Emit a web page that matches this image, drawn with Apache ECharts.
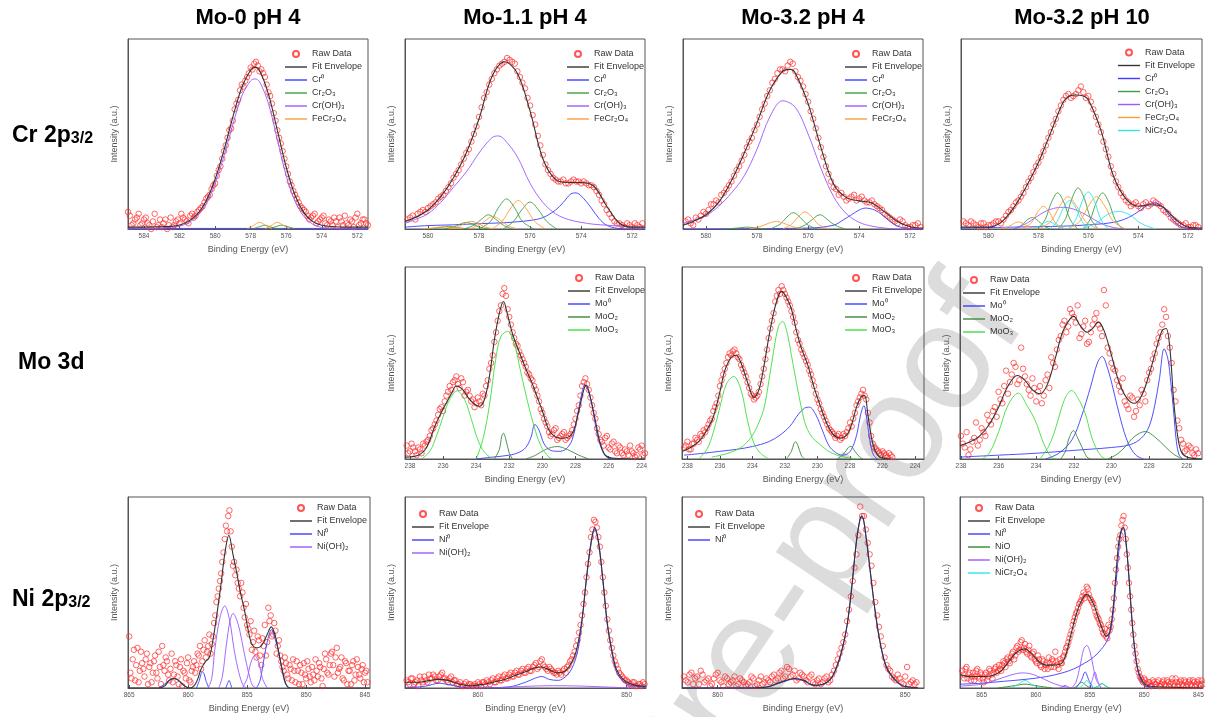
<!DOCTYPE html>
<html><head><meta charset="utf-8">
<script src="https://cdn.jsdelivr.net/npm/echarts@6/dist/echarts.min.js"></script>
<style>html,body{margin:0;padding:0;background:#fff}#c{width:1205px;height:717px}</style>
</head><body><div id="c"></div><script>
// ---------- titles ----------
const columnTitles = ['Mo-0 pH 4','Mo-1.1 pH 4','Mo-3.2 pH 4','Mo-3.2 pH 10'];
const rowLabels = [['Cr 2p','3/2'],['Mo 3d',''],['Ni 2p','3/2']];
const xAxisTitle = 'Binding Energy (eV)';
const yAxisTitle = 'Intensity (a.u.)';
const RAW_STEP = 0.2; // eV spacing of each raw data sweep

// ---------- Cr 2p3/2 ----------
const crTicks = [572,574,576,578,580,582,584];
const crTicks2 = [572,574,576,578,580];
const crMo0RawStart = 585.0;
const crMo0Raw = [0.04,0.07,0.03,0.06,0.02,0.05,0.03,0.00,0.08,0.02,0.01,0.05,0.02,0.01,0.04,0.03,0.06,0.04,0.07,0.06,0.09,0.11,0.14,0.17,0.21,0.24,0.31,0.37,0.44,0.52,0.57,0.66,0.73,0.75,0.80,0.85,0.87,0.86,0.84,0.80,0.72,0.66,0.57,0.48,0.41,0.33,0.25,0.20,0.16,0.12,0.10,0.07,0.06,0.08,0.04,0.06,0.03,0.05,0.02,0.04,0.06,0.02,0.03,0.05,0.01,0.08,0.03,0.05,0.02];
const crMo0RawBStart = 584.9;
const crMo0RawB = [0.09,0.02,0.05,0.08,0.03,0.06,0.02,0.04,0.01,0.05,0.03,0.00,0.06,0.02,0.05,0.08,0.05,0.03,0.08,0.07,0.10,0.12,0.16,0.18,0.23,0.28,0.33,0.41,0.48,0.53,0.63,0.68,0.76,0.78,0.82,0.84,0.88,0.83,0.82,0.76,0.70,0.61,0.52,0.45,0.37,0.29,0.23,0.18,0.14,0.11,0.09,0.05,0.07,0.03,0.05,0.07,0.02,0.04,0.06,0.01,0.04,0.07,0.02,0.04,0.06,0.02,0.05,0.03];
const crMo0Fit = [[584.9,0.01],[584,0.01],[583,0.012],[582.5,0.014],[582,0.021],[581.5,0.04],[581,0.078],[580.5,0.149],[580,0.262],[579.5,0.415],[579,0.59],[578.5,0.745],[578,0.837],[577.75,0.852],[577.5,0.834],[577,0.71],[576.5,0.52],[576,0.325],[575.5,0.176],[575,0.085],[574.5,0.039],[574,0.02],[573.5,0.013],[572.5,0.01],[571.4,0.01]];
const crMo0Cr0 = [[[584.9,0.003],[571.4,0.003]]];
const crMo0Cr2O3 = [[[577.9,0],[577.5,0.012],[577.2,0.02],[576.9,0.012],[576.6,0.003],[576.3,0]],[[577.0,0],[576.6,0.012],[576.25,0.02],[575.9,0.012],[575.5,0]]];
const crMo0CrOH = [[[584.9,0],[583,0.005],[582.5,0.01],[582,0.015],[581.5,0.033],[581,0.07],[580.5,0.135],[580,0.24],[579.5,0.385],[579,0.55],[578.5,0.70],[578,0.78],[577.75,0.79],[577.5,0.775],[577,0.66],[576.5,0.47],[576,0.28],[575.5,0.145],[575,0.065],[574.5,0.025],[574,0.008],[573.5,0.002],[571.4,0]]];
const crMo0Fe = [[[578.2,0],[577.85,0.018],[577.5,0.035],[577.15,0.018],[576.8,0]],[[577.2,0],[576.85,0.018],[576.5,0.035],[576.15,0.018],[575.8,0]]];

const crMo11RawStart = 580.8;
const crMo11Raw = [0.05,0.07,0.08,0.10,0.11,0.13,0.16,0.18,0.22,0.27,0.31,0.37,0.42,0.50,0.59,0.69,0.76,0.82,0.86,0.88,0.89,0.87,0.80,0.74,0.65,0.55,0.44,0.34,0.29,0.26,0.25,0.24,0.25,0.25,0.24,0.24,0.23,0.20,0.15,0.10,0.06,0.03,0.02,0.03,0.01,0.02,0.03];
const crMo11RawBStart = 580.7;
const crMo11RawB = [0.06,0.05,0.09,0.09,0.12,0.14,0.17,0.20,0.24,0.29,0.34,0.40,0.46,0.54,0.64,0.72,0.79,0.84,0.87,0.90,0.88,0.83,0.77,0.69,0.60,0.49,0.39,0.31,0.27,0.25,0.26,0.24,0.26,0.25,0.25,0.23,0.22,0.18,0.13,0.08,0.04,0.03,0.01,0.02,0.03,0.01];
const crMo11Fit = [[580.9,0.04],[580.5,0.06],[580,0.10],[579.5,0.17],[579,0.27],[578.5,0.40],[578,0.58],[577.5,0.80],[577,0.88],[576.5,0.82],[576,0.62],[575.5,0.37],[575,0.26],[574.5,0.245],[574,0.245],[573.5,0.225],[573,0.12],[572.5,0.03],[572,0.01],[571.5,0.01]];
const crMo11Cr0 = [[[580.9,0.01],[580,0.018],[579,0.022],[578,0.028],[577,0.033],[576.5,0.038],[576,0.045],[575.5,0.06],[575,0.1],[574.7,0.14],[574.4,0.185],[574.2,0.19],[573.9,0.16],[573.6,0.11],[573.3,0.055],[573,0.02],[572.6,0.004],[572,0],[571.5,0]]];
const crMo11Cr2O3 = [
 [[578,0],[577.55,0.04],[577.25,0.11],[576.92,0.158],[576.6,0.11],[576.3,0.04],[575.85,0]],
 [[577.05,0],[576.65,0.04],[576.33,0.1],[576.0,0.142],[575.67,0.1],[575.35,0.04],[574.95,0]],
 [[578.6,0],[578.2,0.02],[577.9,0.052],[577.64,0.075],[577.35,0.052],[577.05,0.02],[576.7,0]],
 [[579.4,0],[579.0,0.01],[578.75,0.025],[578.5,0.035],[578.25,0.025],[578.0,0.01],[577.6,0]],
 [[580,0],[579.5,0.008],[579.2,0.014],[578.9,0.008],[578.4,0]]];
const crMo11CrOH = [[[580.9,0.03],[580.5,0.05],[580,0.08],[579.5,0.14],[579,0.22],[578.5,0.30],[578,0.40],[577.5,0.48],[577.25,0.49],[577,0.47],[576.5,0.38],[576,0.24],[575.5,0.14],[575,0.08],[574.5,0.05],[574,0.035],[573.5,0.025],[573,0.02],[572.5,0.015],[572,0.01],[571.5,0.01]]];
const crMo11Fe = [
 [[577.5,0],[577.1,0.04],[576.78,0.105],[576.46,0.15],[576.14,0.105],[575.82,0.04],[575.4,0]],
 [[578.4,0],[578.0,0.02],[577.72,0.048],[577.45,0.067],[577.18,0.048],[576.9,0.02],[576.5,0]],
 [[579.2,0],[578.8,0.012],[578.55,0.03],[578.3,0.04],[578.05,0.03],[577.8,0.012],[577.4,0]],
 [[580.2,0],[579.7,0.007],[579.4,0.012],[579.1,0.007],[578.6,0]]];

const crMo32RawStart = 580.8;
const crMo32Raw = [0.04,0.03,0.06,0.07,0.08,0.13,0.15,0.18,0.21,0.25,0.31,0.36,0.43,0.48,0.55,0.63,0.70,0.77,0.82,0.84,0.86,0.87,0.80,0.75,0.67,0.58,0.48,0.38,0.29,0.22,0.18,0.17,0.16,0.18,0.16,0.15,0.14,0.13,0.11,0.08,0.06,0.04,0.05,0.02,0.01,0.02,0.01];
const crMo32RawBStart = 580.7;
const crMo32RawB = [0.05,0.02,0.05,0.09,0.10,0.13,0.14,0.19,0.23,0.28,0.33,0.39,0.46,0.52,0.59,0.66,0.73,0.79,0.84,0.83,0.88,0.83,0.78,0.71,0.62,0.53,0.43,0.33,0.25,0.21,0.19,0.15,0.17,0.15,0.17,0.14,0.15,0.12,0.10,0.07,0.05,0.03,0.04,0.01,0.02,0.03];
const crMo32Fit = [[580.9,0.02],[580.5,0.04],[580,0.075],[579.5,0.14],[579,0.255],[578.5,0.40],[578,0.56],[577.5,0.73],[577,0.83],[576.7,0.84],[576.5,0.82],[576,0.66],[575.5,0.43],[575,0.235],[574.5,0.165],[574,0.148],[573.5,0.137],[573,0.09],[572.5,0.04],[572,0.012],[571.5,0.005]];
const crMo32Cr0 = [[[580.9,0],[576,0.005],[575,0.02],[574.6,0.05],[574.3,0.075],[574,0.1],[573.75,0.11],[573.4,0.1],[573.1,0.075],[572.8,0.04],[572.5,0.015],[572.1,0.003],[571.5,0]]];
const crMo32Cr2O3 = [
 [[577.5,0],[577.1,0.025],[576.85,0.06],[576.58,0.086],[576.3,0.06],[576.05,0.025],[575.65,0]],
 [[576.5,0],[576.1,0.022],[575.82,0.052],[575.54,0.075],[575.26,0.052],[574.98,0.022],[574.55,0]],
 [[579.2,0],[578.7,0.006],[578.4,0.01],[578.1,0.006],[577.6,0]]];
const crMo32CrOH = [[[580.9,0.03],[580.5,0.045],[580,0.07],[579.5,0.12],[579,0.19],[578.5,0.28],[578,0.42],[577.5,0.59],[577,0.675],[576.5,0.64],[576,0.50],[575.5,0.32],[575,0.17],[574.5,0.08],[574,0.035],[573.5,0.015],[573,0.005],[572.5,0],[571.5,0]]];
const crMo32Fe = [
 [[577.0,0],[576.65,0.025],[576.38,0.065],[576.12,0.09],[575.86,0.065],[575.6,0.025],[575.2,0]],
 [[578.3,0],[577.9,0.012],[577.55,0.03],[577.25,0.04],[576.95,0.03],[576.6,0.012],[576.2,0]]];

const crMo32p10RawStart = 581.0;
const crMo32p10Raw = [0.04,0.02,0.03,0.01,0.03,0.02,0.03,0.04,0.05,0.09,0.12,0.15,0.19,0.25,0.30,0.35,0.41,0.48,0.55,0.62,0.68,0.71,0.70,0.73,0.72,0.70,0.63,0.55,0.46,0.38,0.29,0.22,0.17,0.14,0.13,0.12,0.13,0.12,0.15,0.13,0.10,0.08,0.05,0.03,0.02,0.01,0.02,0.01];
const crMo32p10RawBStart = 580.9;
const crMo32p10RawB = [0.03,0.04,0.02,0.03,0.01,0.02,0.04,0.03,0.07,0.10,0.14,0.17,0.22,0.27,0.33,0.38,0.44,0.51,0.58,0.65,0.70,0.69,0.71,0.75,0.69,0.67,0.59,0.51,0.42,0.33,0.25,0.19,0.15,0.12,0.14,0.11,0.14,0.13,0.14,0.12,0.09,0.06,0.04,0.02,0.03,0.01,0.02];
const crMo32p10Fit = [[581.1,0.01],[580,0.01],[579.5,0.035],[579,0.11],[578.5,0.22],[578,0.35],[577.5,0.51],[577,0.67],[576.75,0.70],[576.5,0.705],[576.2,0.70],[576,0.68],[575.5,0.52],[575,0.28],[574.5,0.16],[574,0.12],[573.5,0.128],[573.2,0.125],[573,0.115],[572.5,0.05],[572,0.01],[571.45,0.005]];
const crMo32p10Cr0 = [[[581.1,0.005],[579,0.01],[577,0.015],[576,0.022],[575,0.035],[574.4,0.06],[573.9,0.1],[573.6,0.128],[573.34,0.137],[573.05,0.12],[572.75,0.07],[572.45,0.025],[572.1,0.005],[571.45,0]]];
const crMo32p10Cr2O3 = [
 [[578.03,0],[577.73,0.05],[577.48,0.14],[577.23,0.19],[576.98,0.14],[576.73,0.05],[576.43,0]],
 [[577.21,0],[576.91,0.055],[576.66,0.16],[576.41,0.216],[576.16,0.16],[575.91,0.055],[575.61,0]],
 [[576.23,0],[575.93,0.05],[575.68,0.14],[575.43,0.19],[575.18,0.14],[574.93,0.05],[574.63,0]],
 [[579.0,0],[578.7,0.016],[578.48,0.045],[578.25,0.06],[578.02,0.045],[577.8,0.016],[577.5,0]]];
const crMo32p10CrOH = [[[579.0,0],[578.4,0.035],[577.9,0.08],[577.4,0.108],[577.0,0.114],[576.6,0.105],[576.1,0.075],[575.5,0.03],[575.0,0.008],[574.5,0]]];
const crMo32p10Fe = [
 [[578.0,0],[577.5,0.04],[577.15,0.12],[576.81,0.17],[576.47,0.12],[576.12,0.04],[575.6,0]],
 [[576.85,0],[576.35,0.04],[576.0,0.12],[575.67,0.17],[575.34,0.12],[575.0,0.04],[574.5,0]],
 [[578.7,0],[578.3,0.03],[578.05,0.085],[577.8,0.12],[577.55,0.085],[577.3,0.03],[576.9,0]],
 [[579.6,0],[579.2,0.012],[579.0,0.028],[578.8,0.037],[578.6,0.028],[578.4,0.012],[578.0,0]]];
const crMo32p10NiCr = [
 [[576.8,0],[576.5,0.05],[576.25,0.145],[576.0,0.195],[575.75,0.145],[575.5,0.05],[575.2,0]],
 [[577.55,0],[577.25,0.04],[577.0,0.11],[576.75,0.15],[576.5,0.11],[576.25,0.04],[575.95,0]],
 [[576.3,0],[575.7,0.03],[575.25,0.075],[574.8,0.093],[574.35,0.075],[573.9,0.03],[573.3,0]],
 [[578.3,0],[578.0,0.012],[577.8,0.03],[577.6,0.04],[577.4,0.03],[577.2,0.012],[576.9,0]]];

// ---------- Mo 3d ----------
const moTicks = [224,226,228,230,232,234,236,238];
const moTicks2 = [226,228,230,232,234,236,238];
const moMo11RawStart = 238.2;
const moMo11Raw = [0.07,0.04,0.06,0.02,0.05,0.08,0.09,0.12,0.16,0.20,0.26,0.25,0.33,0.38,0.40,0.43,0.37,0.40,0.35,0.33,0.31,0.29,0.30,0.34,0.38,0.47,0.54,0.66,0.77,0.86,0.85,0.74,0.66,0.60,0.56,0.52,0.48,0.44,0.41,0.36,0.30,0.24,0.19,0.14,0.13,0.16,0.11,0.13,0.10,0.12,0.15,0.21,0.28,0.38,0.42,0.36,0.28,0.21,0.13,0.09,0.11,0.06,0.08,0.04,0.07,0.03,0.05,0.02,0.04,0.01,0.06,0.07,0.03];
const moMo11RawBStart = 238.1;
const moMo11RawB = [0.03,0.08,0.04,0.06,0.03,0.07,0.10,0.15,0.18,0.23,0.27,0.30,0.35,0.36,0.41,0.39,0.42,0.33,0.36,0.30,0.27,0.32,0.28,0.33,0.41,0.50,0.61,0.72,0.80,0.89,0.78,0.70,0.63,0.59,0.54,0.50,0.45,0.42,0.38,0.33,0.26,0.21,0.17,0.12,0.15,0.10,0.12,0.14,0.11,0.13,0.18,0.25,0.33,0.40,0.39,0.32,0.24,0.16,0.10,0.07,0.12,0.05,0.09,0.03,0.06,0.02,0.04,0.07,0.03,0.02,0.05,0.02];
const moMo11Fit = [[238.3,0.01],[237.5,0.02],[237.0,0.06],[236.5,0.17],[236.0,0.26],[235.5,0.34],[235.2,0.38],[234.8,0.36],[234.4,0.31],[234.0,0.28],[233.8,0.275],[233.5,0.31],[233.2,0.43],[232.9,0.62],[232.6,0.76],[232.35,0.82],[232.1,0.75],[231.8,0.65],[231.5,0.58],[231.0,0.47],[230.6,0.39],[230.3,0.32],[230.0,0.25],[229.6,0.15],[229.2,0.115],[228.8,0.108],[228.4,0.115],[228.1,0.15],[227.8,0.25],[227.5,0.36],[227.35,0.385],[227.1,0.32],[226.8,0.2],[226.5,0.08],[226.2,0.02],[225.8,0.005],[223.8,0]];
const moMo11Mo0 = [[[234.0,0],[233.0,0.01],[232.0,0.02],[231.4,0.035],[231.0,0.06],[230.7,0.11],[230.45,0.18],[230.2,0.15],[229.9,0.08],[229.5,0.045],[229.0,0.04],[228.6,0.05],[228.2,0.1],[227.9,0.22],[227.6,0.35],[227.45,0.386],[227.25,0.36],[227.0,0.28],[226.8,0.18],[226.6,0.1],[226.3,0.03],[226.0,0.005],[225.5,0]]];
const moMo11MoO2 = [
 [[232.9,0],[232.6,0.05],[232.45,0.12],[232.35,0.134],[232.2,0.1],[232.0,0.03],[231.8,0]],
 [[231.0,0],[230.4,0.02],[229.8,0.05],[229.1,0.065],[228.5,0.05],[227.8,0.02],[227.2,0]]];
const moMo11MoO3 = [
 [[237.3,0],[236.8,0.04],[236.4,0.12],[236.0,0.22],[235.6,0.31],[235.15,0.355],[234.7,0.31],[234.3,0.21],[233.9,0.1],[233.5,0.035],[233.0,0]],
 [[234.0,0],[233.6,0.1],[233.2,0.28],[232.8,0.53],[232.5,0.64],[232.1,0.665],[231.7,0.6],[231.3,0.45],[230.9,0.3],[230.5,0.17],[230.1,0.07],[229.6,0.01],[229.3,0]]];

const moMo32RawStart = 238.2;
const moMo32Raw = [0.06,0.09,0.05,0.08,0.10,0.13,0.15,0.16,0.20,0.25,0.29,0.38,0.44,0.50,0.55,0.56,0.55,0.52,0.47,0.43,0.37,0.33,0.32,0.35,0.43,0.52,0.63,0.72,0.82,0.88,0.90,0.86,0.82,0.77,0.71,0.62,0.57,0.53,0.49,0.44,0.38,0.31,0.26,0.22,0.18,0.15,0.13,0.12,0.10,0.13,0.14,0.19,0.21,0.28,0.32,0.36,0.31,0.19,0.08,0.05,0.03,0.04,0.02,0.03,0.01];
const moMo32RawBStart = 238.1;
const moMo32RawB = [0.07,0.05,0.08,0.11,0.09,0.12,0.14,0.18,0.21,0.27,0.33,0.41,0.47,0.53,0.54,0.57,0.53,0.49,0.45,0.40,0.34,0.31,0.33,0.39,0.47,0.57,0.68,0.76,0.85,0.86,0.88,0.84,0.80,0.74,0.66,0.60,0.55,0.51,0.46,0.41,0.34,0.29,0.24,0.20,0.16,0.14,0.11,0.13,0.11,0.12,0.16,0.17,0.24,0.30,0.34,0.33,0.24,0.12,0.06,0.04,0.02,0.03,0.01,0.02];
const moMo32Fit = [[238.3,0.04],[237.8,0.06],[237.2,0.1],[236.8,0.15],[236.4,0.22],[236.0,0.35],[235.7,0.46],[235.3,0.53],[235.0,0.54],[234.7,0.5],[234.3,0.4],[233.9,0.32],[233.6,0.36],[233.3,0.48],[233.0,0.63],[232.7,0.76],[232.4,0.85],[232.2,0.873],[231.9,0.84],[231.6,0.78],[231.3,0.67],[231.0,0.58],[230.6,0.49],[230.2,0.37],[229.8,0.27],[229.4,0.18],[229.0,0.125],[228.6,0.108],[228.2,0.125],[227.9,0.18],[227.6,0.27],[227.3,0.325],[227.1,0.33],[226.9,0.23],[226.6,0.08],[226.3,0.02],[226.0,0.005],[225.5,0]];
const moMo32Mo0 = [[[238.2,0.02],[237.0,0.03],[236.0,0.04],[235.0,0.05],[234.0,0.065],[233.0,0.09],[232.3,0.125],[231.7,0.17],[231.2,0.23],[230.8,0.265],[230.5,0.27],[230.1,0.23],[229.7,0.15],[229.3,0.07],[228.9,0.035],[228.5,0.02],[228.1,0.03],[227.8,0.07],[227.55,0.14],[227.35,0.23],[227.15,0.278],[226.95,0.2],[226.75,0.08],[226.55,0.02],[226.3,0]]];
const moMo32MoO2 = [
 [[231.9,0],[231.6,0.04],[231.45,0.08],[231.35,0.09],[231.2,0.07],[231.0,0.02],[230.8,0]],
 [[228.8,0],[228.4,0.025],[228.1,0.06],[227.95,0.066],[227.7,0.04],[227.4,0.01],[227.2,0]]];
const moMo32MoO3 = [
 [[237.3,0],[236.8,0.05],[236.4,0.14],[236.0,0.27],[235.6,0.39],[235.15,0.43],[234.7,0.36],[234.3,0.2],[233.9,0.08],[233.5,0.03],[233.0,0]],
 [[236.5,0.01],[235.5,0.03],[234.7,0.06],[234.2,0.1],[233.9,0.136],[233.6,0.19],[233.3,0.26],[233.0,0.40],[232.7,0.56],[232.4,0.69],[232.15,0.717],[231.9,0.67],[231.6,0.54],[231.3,0.4],[231.0,0.27],[230.7,0.17],[230.3,0.11],[229.9,0.08],[229.4,0.045],[228.8,0.02],[228.0,0.005],[227.5,0]]];

const moMo32p10RawStart = 238.0;
const moMo32p10Raw = [0.12,0.06,0.02,0.09,0.19,0.10,0.14,0.23,0.18,0.27,0.35,0.29,0.46,0.40,0.50,0.39,0.58,0.43,0.36,0.42,0.30,0.38,0.33,0.44,0.53,0.48,0.62,0.70,0.66,0.78,0.74,0.80,0.65,0.72,0.61,0.70,0.76,0.68,0.88,0.58,0.50,0.46,0.38,0.42,0.28,0.33,0.22,0.31,0.36,0.30,0.45,0.52,0.60,0.66,0.78,0.64,0.50,0.30,0.16,0.08,0.05,0.06,0.02,0.03];
const moMo32p10RawBStart = 237.9;
const moMo32p10RawB = [0.08,0.14,0.05,0.11,0.07,0.16,0.12,0.20,0.25,0.22,0.31,0.38,0.34,0.44,0.48,0.41,0.47,0.39,0.33,0.37,0.35,0.29,0.41,0.37,0.50,0.57,0.64,0.72,0.69,0.76,0.71,0.63,0.69,0.60,0.66,0.73,0.70,0.64,0.80,0.55,0.47,0.41,0.35,0.30,0.26,0.32,0.25,0.28,0.34,0.41,0.47,0.55,0.63,0.70,0.74,0.58,0.36,0.20,0.10,0.04,0.07,0.03,0.05];
const moMo32p10Fit = [[238.05,0.07],[237.5,0.09],[237.0,0.12],[236.5,0.18],[236.0,0.27],[235.5,0.38],[235.0,0.435],[234.6,0.41],[234.2,0.36],[233.8,0.34],[233.4,0.39],[233.0,0.52],[232.6,0.66],[232.2,0.73],[232.0,0.743],[231.7,0.70],[231.3,0.66],[231.0,0.68],[230.7,0.713],[230.4,0.67],[230.0,0.54],[229.6,0.40],[229.2,0.32],[228.8,0.29],[228.4,0.33],[228.0,0.44],[227.6,0.58],[227.3,0.67],[227.1,0.68],[226.9,0.58],[226.7,0.31],[226.5,0.13],[226.3,0.04],[226.0,0.01],[225.2,0]];
const moMo32p10Mo0 = [
 [[233.5,0],[232.8,0.03],[232.1,0.1],[231.6,0.22],[231.1,0.38],[230.75,0.5],[230.5,0.534],[230.2,0.47],[229.9,0.36],[229.5,0.2],[229.1,0.08],[228.7,0.02],[228.3,0]],
 [[238.05,0.01],[236.0,0.02],[234.0,0.03],[232.0,0.045],[230.0,0.06],[229.0,0.075],[228.4,0.11],[228.0,0.17],[227.7,0.28],[227.45,0.42],[227.2,0.574],[227.0,0.52],[226.85,0.4],[226.7,0.25],[226.55,0.09],[226.4,0.02],[226.2,0]]];
const moMo32p10MoO2 = [
 [[232.7,0],[232.45,0.04],[232.25,0.11],[232.02,0.148],[231.8,0.11],[231.58,0.064],[231.3,0.01],[231.1,0]],
 [[230.2,0],[229.7,0.025],[229.27,0.064],[228.8,0.115],[228.21,0.143],[227.7,0.115],[227.14,0.064],[226.7,0.025],[226.2,0]]];
const moMo32p10MoO3 = [
 [[236.9,0],[236.5,0.03],[236.0,0.14],[235.5,0.28],[234.95,0.343],[234.5,0.28],[234.05,0.2],[233.6,0.08],[233.2,0.01],[232.9,0]],
 [[233.8,0],[233.35,0.064],[233.0,0.15],[232.7,0.25],[232.4,0.33],[232.11,0.357],[231.8,0.32],[231.4,0.238],[231.1,0.13],[230.85,0.064],[230.5,0.01],[230.2,0]]];

// ---------- Ni 2p3/2 ----------
const niTicks = [845,850,855,860,865];
const niTicks2 = [850,860];
const niMo0RawStart = 865.0;
const niMo0Raw = [0.27,0.05,0.20,0.12,0.03,0.19,0.10,0.15,0.02,0.13,0.08,0.17,0.05,0.11,0.22,0.09,0.14,0.04,0.18,0.07,0.12,0.02,0.15,0.09,0.05,0.16,0.03,0.11,0.08,0.18,0.22,0.14,0.25,0.19,0.28,0.23,0.34,0.45,0.52,0.60,0.71,0.85,0.90,0.82,0.64,0.59,0.55,0.48,0.50,0.37,0.33,0.28,0.20,0.30,0.16,0.25,0.12,0.22,0.17,0.42,0.38,0.28,0.30,0.22,0.17,0.11,0.16,0.07,0.12,0.04,0.09,0.14,0.02,0.08,0.13,0.05,0.10,0.03,0.07,0.15,0.06,0.11,0.01,0.18,0.08,0.12,0.19,0.06,0.21,0.10,0.16,0.04,0.13,0.09,0.02,0.14,0.07,0.11,0.05,0.12,0.08,0.03];
const niMo0RawBStart = 864.9;
const niMo0RawB = [0.08,0.15,0.04,0.21,0.09,0.13,0.06,0.18,0.11,0.03,0.14,0.08,0.19,0.02,0.12,0.16,0.07,0.10,0.03,0.14,0.06,0.11,0.01,0.08,0.13,0.04,0.09,0.14,0.12,0.17,0.10,0.20,0.16,0.22,0.18,0.27,0.38,0.48,0.56,0.66,0.78,0.82,0.93,0.74,0.66,0.62,0.52,0.55,0.42,0.44,0.31,0.35,0.24,0.19,0.27,0.17,0.26,0.33,0.24,0.35,0.27,0.34,0.18,0.25,0.14,0.09,0.13,0.05,0.10,0.15,0.03,0.09,0.12,0.02,0.07,0.14,0.06,0.11,0.04,0.09,0.13,0.05,0.10,0.15,0.07,0.18,0.12,0.16,0.08,0.11,0.05,0.14,0.02,0.09,0.12,0.04,0.15,0.07,0.10,0.03,0.09];
const niMo0Fit = [[865.1,0],[862.5,0],[862.0,0.01],[861.6,0.04],[861.2,0.05],[860.8,0.04],[860.3,0.01],[859.8,0.0],[859.3,0.03],[858.9,0.1],[858.5,0.14],[858.2,0.16],[857.9,0.25],[857.6,0.37],[857.2,0.55],[856.9,0.7],[856.55,0.80],[856.2,0.70],[855.9,0.61],[855.6,0.51],[855.2,0.40],[854.9,0.30],[854.6,0.23],[854.2,0.21],[853.9,0.215],[853.6,0.24],[853.3,0.28],[852.95,0.32],[852.6,0.27],[852.3,0.18],[852.0,0.09],[851.7,0.02],[851.3,0],[844.6,0]];
const niMo0Ni0 = [
 [[862.5,0],[862.0,0.02],[861.6,0.042],[861.28,0.05],[860.9,0.042],[860.5,0.02],[860.0,0]],
 [[859.3,0],[859.05,0.04],[858.9,0.075],[858.79,0.084],[858.65,0.075],[858.5,0.04],[858.25,0]],
 [[856.8,0],[856.65,0.025],[856.53,0.04],[856.42,0.025],[856.3,0]],
 [[854.2,0],[853.9,0.04],[853.64,0.127],[853.3,0.24],[852.93,0.305],[852.65,0.26],[852.37,0.2],[852.08,0.11],[851.8,0.03],[851.5,0]]];
const niMo0NiOH = [
 [[858.3,0],[858.0,0.05],[857.74,0.2],[857.3,0.37],[856.9,0.43],[856.5,0.36],[856.1,0.2],[855.7,0.08],[855.3,0.01],[855.0,0]],
 [[857.4,0],[857.1,0.06],[856.75,0.23],[856.45,0.35],[856.19,0.39],[855.9,0.36],[855.62,0.3],[855.3,0.2],[855.05,0.127],[854.75,0.05],[854.5,0.01],[854.2,0]],
 [[855.4,0],[855.0,0.05],[854.7,0.13],[854.35,0.17],[854.0,0.13],[853.7,0.05],[853.3,0]]];

const niMo11RawStart = 864.8;
const niMo11Raw = [0.04,0.02,0.05,0.03,0.01,0.04,0.06,0.03,0.05,0.07,0.04,0.06,0.08,0.05,0.03,0.06,0.04,0.02,0.03,0.01,0.03,0.02,0.01,0.02,0.03,0.01,0.03,0.04,0.02,0.05,0.03,0.06,0.04,0.07,0.05,0.08,0.06,0.09,0.07,0.10,0.08,0.11,0.09,0.12,0.10,0.14,0.12,0.10,0.11,0.09,0.08,0.09,0.07,0.10,0.11,0.14,0.17,0.22,0.29,0.38,0.50,0.65,0.79,0.88,0.84,0.74,0.58,0.43,0.30,0.21,0.14,0.10,0.07,0.05,0.04,0.02,0.03,0.01,0.02,0.01,0.02];
const niMo11RawBStart = 864.7;
const niMo11RawB = [0.03,0.05,0.02,0.04,0.06,0.03,0.04,0.07,0.05,0.06,0.04,0.07,0.05,0.04,0.05,0.03,0.04,0.02,0.01,0.02,0.01,0.02,0.01,0.01,0.02,0.03,0.02,0.03,0.04,0.03,0.05,0.04,0.06,0.05,0.07,0.06,0.08,0.07,0.09,0.08,0.10,0.09,0.11,0.13,0.11,0.15,0.11,0.09,0.10,0.08,0.07,0.08,0.09,0.08,0.12,0.15,0.19,0.25,0.33,0.44,0.58,0.71,0.83,0.87,0.79,0.66,0.50,0.36,0.25,0.17,0.12,0.08,0.06,0.04,0.03,0.02,0.03,0.01,0.02,0.03];
const niMo11Fit = [[864.9,0.03],[864.0,0.03],[863.2,0.04],[862.6,0.045],[862.0,0.04],[861.2,0.02],[860.4,0.012],[859.6,0.02],[859.0,0.03],[858.2,0.045],[857.5,0.065],[856.8,0.085],[856.2,0.105],[855.7,0.11],[855.2,0.095],[854.7,0.08],[854.2,0.085],[853.8,0.12],[853.4,0.19],[853.0,0.36],[852.7,0.58],[852.4,0.76],[852.15,0.84],[851.9,0.77],[851.6,0.57],[851.3,0.34],[851.0,0.2],[850.7,0.1],[850.3,0.05],[849.8,0.023],[849.0,0.01],[848.7,0.01]];
const niMo11Ni0 = [[[864.9,0],[863.5,0.01],[862.6,0.025],[861.8,0.015],[860.5,0],[858,0.005],[856.8,0.03],[856.2,0.05],[855.7,0.06],[855.2,0.045],[854.6,0.04],[854.1,0.06],[853.7,0.1],[853.3,0.19],[853.0,0.35],[852.7,0.57],[852.4,0.75],[852.15,0.83],[851.9,0.76],[851.6,0.56],[851.3,0.33],[851.0,0.19],[850.7,0.09],[850.3,0.04],[849.8,0.015],[849.0,0.005],[848.7,0]]];
const niMo11NiOH = [[[859,0],[857,0.008],[855,0.012],[853,0.01],[851,0.004],[849.5,0]]];

const niMo32RawStart = 861.8;
const niMo32Raw = [0.06,0.03,0.08,0.05,0.02,0.07,0.04,0.01,0.05,0.08,0.03,0.06,0.02,0.04,0.01,0.05,0.03,0.02,0.06,0.01,0.04,0.02,0.05,0.03,0.07,0.05,0.09,0.06,0.10,0.07,0.04,0.08,0.06,0.03,0.07,0.02,0.05,0.03,0.06,0.04,0.09,0.15,0.21,0.28,0.41,0.56,0.70,0.95,0.90,0.76,0.64,0.45,0.32,0.22,0.12,0.09,0.05,0.07,0.03,0.06,0.02,0.04,0.03];
const niMo32RawBStart = 861.7;
const niMo32RawB = [0.04,0.07,0.02,0.06,0.09,0.03,0.05,0.02,0.07,0.04,0.01,0.05,0.03,0.06,0.02,0.04,0.01,0.03,0.05,0.02,0.06,0.03,0.04,0.06,0.04,0.08,0.05,0.11,0.06,0.09,0.05,0.07,0.04,0.06,0.03,0.04,0.02,0.05,0.03,0.07,0.12,0.18,0.24,0.35,0.48,0.63,0.80,0.90,0.83,0.70,0.55,0.38,0.27,0.16,0.10,0.06,0.04,0.05,0.02,0.11,0.03,0.02];
const niMo32Fit = [[861.9,0],[858.5,0],[857.4,0.005],[856.8,0.025],[856.2,0.045],[855.9,0.05],[855.4,0.04],[854.9,0.015],[854.4,0.02],[854.0,0.045],[853.7,0.1],[853.4,0.19],[853.1,0.33],[852.85,0.53],[852.6,0.77],[852.4,0.89],[852.3,0.9],[852.1,0.8],[851.85,0.6],[851.6,0.4],[851.3,0.22],[851.0,0.11],[850.6,0.05],[850.2,0.015],[849.8,0.005],[849.3,0]];
const niMo32Ni0 = [[[861.9,0],[858.5,0],[857.4,0.004],[856.8,0.022],[856.2,0.042],[855.9,0.047],[855.4,0.037],[854.9,0.013],[854.4,0.018],[854.0,0.042],[853.7,0.095],[853.4,0.185],[853.1,0.325],[852.85,0.525],[852.6,0.765],[852.4,0.885],[852.3,0.895],[852.1,0.795],[851.85,0.595],[851.6,0.395],[851.3,0.215],[851.0,0.105],[850.6,0.045],[850.2,0.013],[849.8,0.004],[849.3,0]]];

const niMo32p10RawStart = 866.8;
const niMo32p10Raw = [0.09,0.05,0.11,0.07,0.04,0.08,0.06,0.10,0.05,0.07,0.03,0.08,0.06,0.09,0.05,0.10,0.08,0.12,0.09,0.14,0.11,0.16,0.13,0.18,0.15,0.21,0.19,0.24,0.20,0.23,0.18,0.22,0.16,0.19,0.14,0.17,0.12,0.15,0.10,0.13,0.16,0.11,0.14,0.19,0.12,0.15,0.13,0.17,0.21,0.24,0.28,0.33,0.37,0.40,0.44,0.46,0.50,0.49,0.52,0.47,0.45,0.42,0.38,0.36,0.33,0.29,0.31,0.26,0.30,0.36,0.47,0.62,0.74,0.80,0.88,0.84,0.70,0.55,0.41,0.28,0.18,0.10,0.06,0.04,0.05,0.02,0.03,0.01,0.04,0.02,0.03,0.01,0.02,0.04,0.01,0.03,0.02,0.05,0.01,0.03,0.02,0.04,0.01,0.03,0.02,0.04,0.01,0.03,0.02,0.04,0.01,0.02];
const niMo32p10RawBStart = 866.7;
const niMo32p10RawB = [0.07,0.10,0.05,0.08,0.06,0.04,0.09,0.06,0.08,0.05,0.07,0.04,0.10,0.07,0.08,0.11,0.09,0.10,0.12,0.13,0.15,0.14,0.16,0.19,0.17,0.22,0.20,0.25,0.21,0.19,0.20,0.17,0.18,0.15,0.13,0.15,0.11,0.14,0.12,0.10,0.13,0.15,0.11,0.14,0.10,0.13,0.16,0.19,0.22,0.26,0.30,0.35,0.39,0.42,0.45,0.48,0.47,0.53,0.49,0.46,0.44,0.40,0.37,0.34,0.31,0.28,0.27,0.33,0.32,0.41,0.55,0.68,0.78,0.85,0.90,0.78,0.63,0.48,0.34,0.22,0.14,0.08,0.05,0.03,0.04,0.02,0.03,0.01,0.03,0.02,0.04,0.01,0.03,0.02,0.04,0.01,0.03,0.02,0.05,0.01,0.03,0.02,0.04,0.01,0.03,0.02,0.04,0.01,0.03,0.02,0.04];
const niMo32p10Fit = [[867.0,0.07],[866.0,0.06],[865.0,0.06],[864.0,0.065],[863.2,0.09],[862.6,0.13],[862.0,0.175],[861.4,0.2],[861.0,0.205],[860.5,0.185],[860.0,0.155],[859.5,0.128],[859.0,0.12],[858.5,0.12],[858.0,0.122],[857.6,0.13],[857.2,0.18],[856.8,0.27],[856.4,0.36],[856.0,0.43],[855.6,0.475],[855.3,0.49],[855.0,0.475],[854.6,0.43],[854.2,0.36],[853.8,0.3],[853.5,0.27],[853.2,0.29],[852.9,0.4],[852.6,0.6],[852.35,0.76],[852.1,0.83],[851.9,0.84],[851.65,0.75],[851.4,0.58],[851.1,0.34],[850.8,0.17],[850.5,0.08],[850.1,0.03],[849.6,0.01],[848.5,0.005],[844.6,0]];
const niMo32p10Ni0 = [
 [[867,0.02],[865,0.025],[863,0.035],[861,0.045],[859,0.06],[857.5,0.08],[856.5,0.1],[855.5,0.13],[854.7,0.16],[854.0,0.2],[853.4,0.25],[853.0,0.33],[852.6,0.55],[852.3,0.74],[852.1,0.82],[851.9,0.835],[851.65,0.74],[851.4,0.57],[851.1,0.33],[850.8,0.16],[850.5,0.07],[850.1,0.02],[849.6,0.005],[849,0]],
 [[856.3,0],[855.8,0.04],[855.45,0.084],[855.1,0.04],[854.7,0]]];
const niMo32p10NiO = [
 [[863.5,0],[862,0.012],[861,0.02],[860,0.012],[858.5,0]],
 [[856.5,0],[856.1,0.015],[855.77,0.03],[855.4,0.015],[855.0,0]],
 [[854.6,0],[854.2,0.012],[853.9,0.023],[853.6,0.012],[853.2,0]]];
const niMo32p10NiOH = [
 [[867,0.01],[865,0.02],[863.5,0.045],[862.2,0.07],[861.2,0.079],[860.2,0.07],[859.2,0.045],[858.2,0.02],[857.2,0.005],[856.5,0]],
 [[856.7,0],[856.3,0.03],[855.9,0.12],[855.6,0.2],[855.3,0.223],[855.0,0.19],[854.7,0.11],[854.4,0.04],[854.0,0.005]],
 [[855.1,0],[854.8,0.04],[854.55,0.084],[854.3,0.04],[854.0,0]],
 [[857.8,0],[857.5,0.008],[857.3,0.014],[857.1,0.008],[856.8,0]]];
const niMo32p10NiCr = [
 [[862.3,0],[861.6,0.02],[861.0,0.04],[860.4,0.02],[859.7,0]],
 [[856.0,0],[855.6,0.02],[855.3,0.04],[855.0,0.02],[854.6,0]],
 [[854.5,0],[854.2,0.012],[853.9,0.023],[853.6,0.012],[853.3,0]]];

// ---------- styling ----------
const C = {raw:'#ff2b2b', fit:'#333333', blue:'#3c3cff', green:'#3f9f3f', purple:'#9b59ff', orange:'#ff9c3a', cyan:'#2fe6e6', moo2:'#3a8a3a', moo3:'#3ee03e', nio:'#2e8b2e'};
const N = {raw:'Raw Data', fit:'Fit Envelope', cr0:'Cr\u2070', cr2o3:'Cr\u2082O\u2083', croh:'Cr(OH)\u2083', fe:'FeCr\u2082O\u2084', nicr:'NiCr\u2082O\u2084',
  mo0:'Mo\u2070', moo2:'MoO\u2082', moo3:'MoO\u2083', ni0:'Ni\u2070', nio:'NiO', nioh:'Ni(OH)\u2082'};

const panels = [
 {left:128, top:39, w:240, h:190, range:[571.4,584.9], ticks:crTicks, lg:[285,49], raw:[[crMo0RawStart,crMo0Raw],[crMo0RawBStart,crMo0RawB]], fit:crMo0Fit,
  comps:[[N.cr0,C.blue,crMo0Cr0],[N.cr2o3,C.green,crMo0Cr2O3],[N.croh,C.purple,crMo0CrOH],[N.fe,C.orange,crMo0Fe]]},
 {left:405, top:39, w:240, h:190, range:[571.5,580.9], ticks:crTicks2, lg:[567,49], raw:[[crMo11RawStart,crMo11Raw],[crMo11RawBStart,crMo11RawB]], fit:crMo11Fit,
  comps:[[N.cr0,C.blue,crMo11Cr0],[N.cr2o3,C.green,crMo11Cr2O3],[N.croh,C.purple,crMo11CrOH],[N.fe,C.orange,crMo11Fe]]},
 {left:683, top:39, w:240, h:190, range:[571.5,580.9], ticks:crTicks2, lg:[845,49], raw:[[crMo32RawStart,crMo32Raw],[crMo32RawBStart,crMo32RawB]], fit:crMo32Fit,
  comps:[[N.cr0,C.blue,crMo32Cr0],[N.cr2o3,C.green,crMo32Cr2O3],[N.croh,C.purple,crMo32CrOH],[N.fe,C.orange,crMo32Fe]]},
 {left:961, top:39, w:241, h:190, range:[571.45,581.1], ticks:crTicks2, lg:[1118,47.5], raw:[[crMo32p10RawStart,crMo32p10Raw],[crMo32p10RawBStart,crMo32p10RawB]], fit:crMo32p10Fit,
  comps:[[N.cr0,C.blue,crMo32p10Cr0],[N.cr2o3,C.green,crMo32p10Cr2O3],[N.croh,C.purple,crMo32p10CrOH],[N.fe,C.orange,crMo32p10Fe],[N.nicr,C.cyan,crMo32p10NiCr]]},
 {left:405, top:267, w:240, h:192, range:[223.8,238.3], ticks:moTicks, lg:[568,273], raw:[[moMo11RawStart,moMo11Raw],[moMo11RawBStart,moMo11RawB]], fit:moMo11Fit,
  comps:[[N.mo0,C.blue,moMo11Mo0],[N.moo2,C.moo2,moMo11MoO2],[N.moo3,C.moo3,moMo11MoO3]]},
 {left:682, top:267, w:242, h:192, range:[223.45,238.33], ticks:moTicks, lg:[845,273], raw:[[moMo32RawStart,moMo32Raw],[moMo32RawBStart,moMo32RawB]], fit:moMo32Fit,
  comps:[[N.mo0,C.blue,moMo32Mo0],[N.moo2,C.moo2,moMo32MoO2],[N.moo3,C.moo3,moMo32MoO3]]},
 {left:960, top:267, w:242, h:192, range:[225.19,238.05], ticks:moTicks2, lg:[963,275], raw:[[moMo32p10RawStart,moMo32p10Raw],[moMo32p10RawBStart,moMo32p10RawB]], fit:moMo32p10Fit,
  comps:[[N.mo0,C.blue,moMo32p10Mo0],[N.moo2,C.moo2,moMo32p10MoO2],[N.moo3,C.moo3,moMo32p10MoO3]]},
 {left:128, top:497, w:242, h:191, range:[844.58,865.1], ticks:niTicks, lg:[290,503], raw:[[niMo0RawStart,niMo0Raw],[niMo0RawBStart,niMo0RawB]], fit:niMo0Fit,
  comps:[[N.ni0,C.blue,niMo0Ni0],[N.nioh,C.purple,niMo0NiOH]]},
 {left:405, top:497, w:241, h:191, range:[848.7,864.9], ticks:niTicks2, lg:[412,509], raw:[[niMo11RawStart,niMo11Raw],[niMo11RawBStart,niMo11RawB]], fit:niMo11Fit,
  comps:[[N.ni0,C.blue,niMo11Ni0],[N.nioh,C.purple,niMo11NiOH]]},
 {left:682, top:497, w:242, h:191, range:[849.0,861.9], ticks:niTicks2, lg:[688,509], raw:[[niMo32RawStart,niMo32Raw],[niMo32RawBStart,niMo32RawB]], fit:niMo32Fit,
  comps:[[N.ni0,C.blue,niMo32Ni0]]},
 {left:960, top:497, w:243, h:191, range:[844.57,867.0], ticks:niTicks, lg:[968,503], raw:[[niMo32p10RawStart,niMo32p10Raw],[niMo32p10RawBStart,niMo32p10RawB]], fit:niMo32p10Fit,
  comps:[[N.ni0,C.blue,niMo32p10Ni0],[N.nio,C.nio,niMo32p10NiO],[N.nioh,C.purple,niMo32p10NiOH],[N.nicr,C.cyan,niMo32p10NiCr]]}
];

const FONT = 'Arial, "Liberation Sans", Helvetica, sans-serif';
const LINE_ICON = 'path://M0,0H22V1.4H0Z';
const grid=[], xAxis=[], yAxis=[], series=[], legend=[];
panels.forEach((p,i)=>{
  grid.push({left:p.left, top:p.top, width:p.w, height:p.h, show:true, borderColor:'#555', borderWidth:1, containLabel:false, outerBoundsMode:'none'});
  xAxis.push({type:'value', gridIndex:i, min:p.range[0], max:p.range[1], inverse:true,
    name:xAxisTitle, nameLocation:'middle', nameGap:16, nameTextStyle:{fontSize:9, color:'#555', fontFamily:FONT},
    axisLine:{show:true, onZero:false, lineStyle:{color:'#555', width:1}},
    axisTick:{show:true, inside:true, length:3, customValues:p.ticks, lineStyle:{color:'#555'}},
    axisLabel:{customValues:p.ticks, fontSize:6.5, color:'#555', margin:4, fontFamily:FONT},
    splitLine:{show:false}});
  yAxis.push({type:'value', gridIndex:i, min:0, max:1,
    name:yAxisTitle, nameLocation:'middle', nameGap:9, nameTextStyle:{fontSize:9, color:'#555', fontFamily:FONT},
    axisLine:{show:true, lineStyle:{color:'#555', width:1}}, axisTick:{show:false}, axisLabel:{show:false}, splitLine:{show:false}});
  const rawData = [];
  p.raw.forEach(([start, vals])=>vals.forEach((v,k)=>rawData.push([Math.round((start-RAW_STEP*k)*100)/100, v])));
  series.push({type:'scatter', name:N.raw, xAxisIndex:i, yAxisIndex:i, data:rawData, symbol:'circle', symbolSize:5.5,
    itemStyle:{color:'rgba(255,255,255,0)', borderColor:C.raw, borderWidth:0.9}, z:2, silent:true});
  p.comps.forEach(([name,color,peaks])=>{
    peaks.forEach(pk=>series.push({type:'line', name, xAxisIndex:i, yAxisIndex:i, data:pk, symbol:'none', smooth:0.35,
      lineStyle:{color, width:1, opacity:0.9}, itemStyle:{color}, z:3, silent:true}));
  });
  series.push({type:'line', name:N.fit, xAxisIndex:i, yAxisIndex:i, data:p.fit, symbol:'none', smooth:0.35,
    lineStyle:{color:C.fit, width:1.1}, itemStyle:{color:C.fit}, z:4, silent:true});
  const lgData = [{name:N.raw, icon:'circle'}, {name:N.fit, icon:LINE_ICON}].concat(p.comps.map(c=>({name:c[0], icon:LINE_ICON})));
  legend.push({left:p.lg[0], top:p.lg[1], orient:'vertical', padding:0, itemGap:3, itemWidth:22, itemHeight:6,
    selectedMode:false, data:lgData, textStyle:{fontSize:9, color:'#333', lineHeight:10, fontFamily:FONT}});
});

const graphic = [];
const colCenters = [248,525,803,1082];
columnTitles.forEach((t,k)=>graphic.push({type:'text', x:colCenters[k], y:18, silent:true,
  style:{text:t, font:'bold 22px '+FONT, fill:'#000', align:'center', verticalAlign:'middle', textAlign:'center', textVerticalAlign:'middle'}}));
const rowY = [133,360,597], rowX = [12,18,12];
rowLabels.forEach((r,k)=>graphic.push({type:'text', x:rowX[k], y:rowY[k], silent:true,
  style:{text:'{b|'+r[0]+'}'+(r[1]?'{s|'+r[1]+'}':''), align:'left', verticalAlign:'middle', textAlign:'left', textVerticalAlign:'middle',
    rich:{b:{fontSize:23, fontWeight:'bold', fontFamily:FONT, fill:'#000', lineHeight:28, verticalAlign:'bottom'},
          s:{fontSize:16, fontWeight:'bold', fontFamily:FONT, fill:'#000', lineHeight:16, verticalAlign:'bottom'}}}}));
graphic.push({type:'text', x:993, y:298, rotation:56*Math.PI/180, z:-10, silent:true,
  style:{text:'Journal Pre-proof', font:'150px '+FONT, fill:'#dcdcdc', align:'right', verticalAlign:'middle', textAlign:'right', textVerticalAlign:'middle'}});

const chart = echarts.init(document.getElementById('c'), null, {renderer:'canvas'});
chart.setOption({animation:false, backgroundColor:'#fff', grid, xAxis, yAxis, series, legend, graphic});
</script></body></html>
